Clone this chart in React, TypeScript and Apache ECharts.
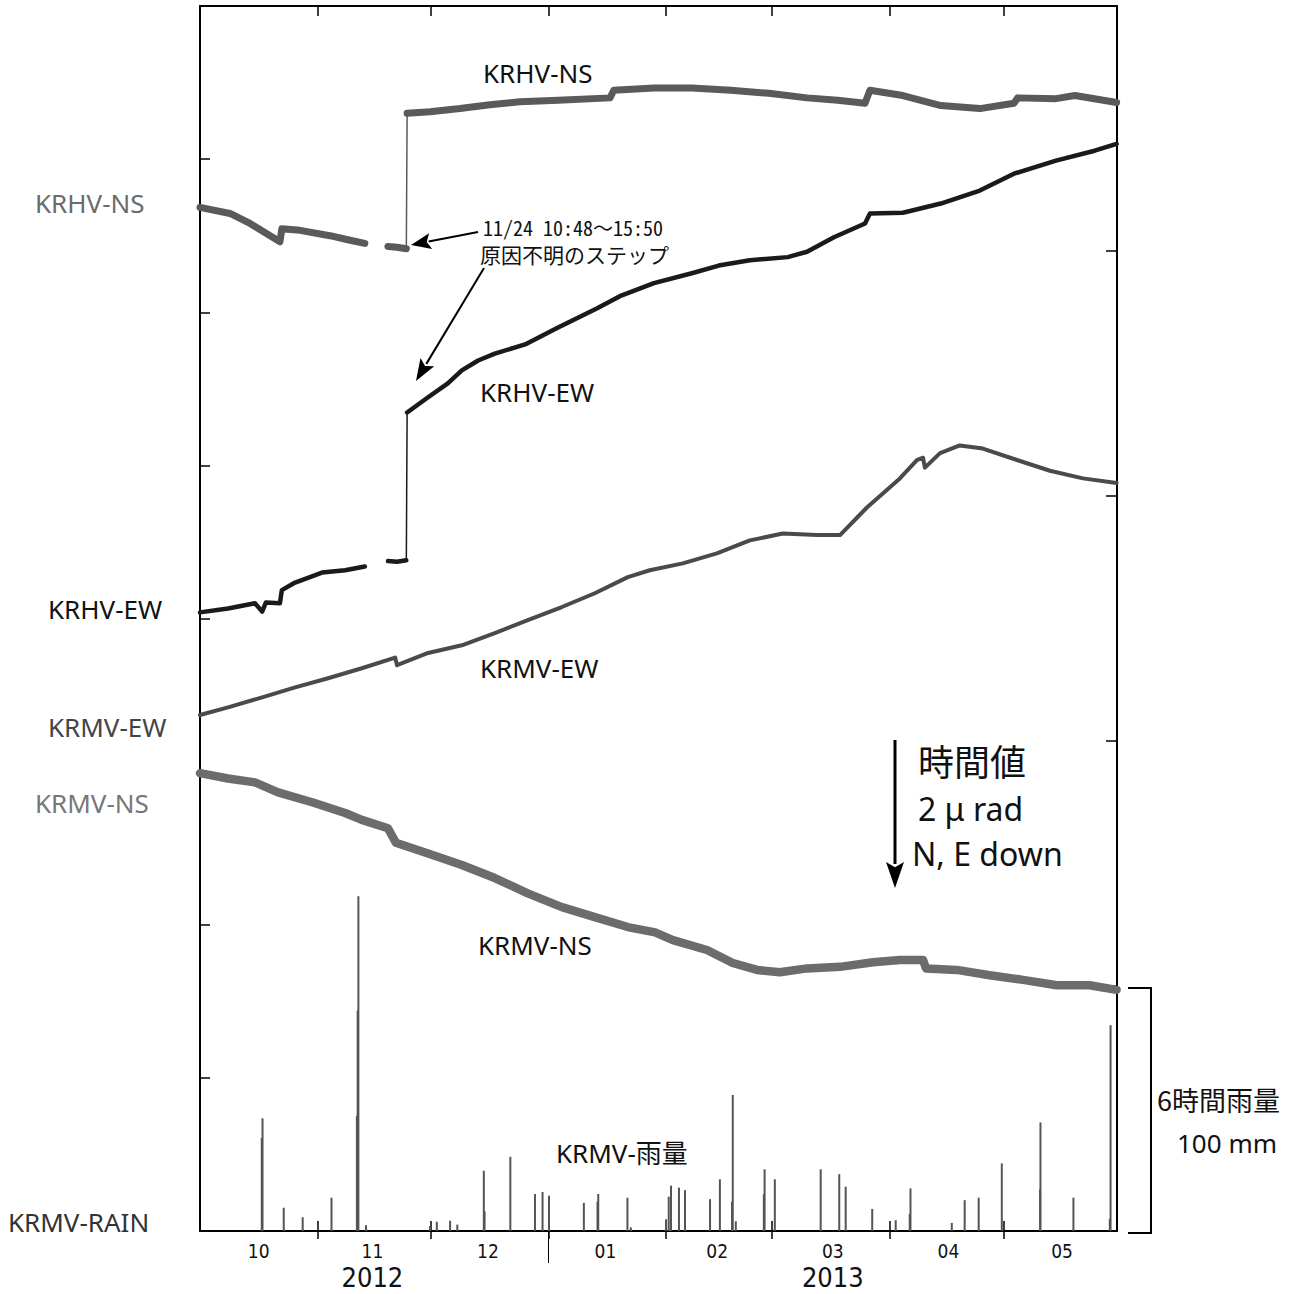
import React, { useEffect, useRef } from "react";
import * as echarts from "echarts";

// x: days since 2012-10-01 00:00 ; left y: tilt (µrad, arbitrary offset) ; right y: 6-hour rainfall (mm)
const MONTH_STARTS = [31, 61, 92, 123, 151, 182, 212];
const MONTH_LABEL_POS = [15.5, 45.5, 76, 107, 136.5, 167, 197.5, 227.5];
const MONTH_LABELS = ["10", "11", "12", "01", "02", "03", "04", "05"];
const YEAR_POS = [45.5, 167];
const YEAR_LABELS = ["2012", "2013"];
const YEAR_DIVIDER = [92];

// KRHV-NS
const krhvNsA = [[0, 13.37], [7.9, 13.29], [13.2, 13.16], [18.5, 13.0], [21.1, 12.92], [21.6, 13.09], [26.4, 13.07], [34.3, 13.0], [39.6, 12.94], [43.5, 12.9]];
const krhvNsB = [[49.6, 12.86], [52, 12.85], [54.45, 12.83]];
const krhvNsStep = [[54.45, 12.83], [54.66, 14.6]];
const krhvNsC = [[54.66, 14.6], [60.7, 14.62], [68.6, 14.66], [76.5, 14.71], [84.4, 14.75], [94.5, 14.77], [108.2, 14.8], [109.2, 14.9], [119.8, 14.93], [129.8, 14.93], [140.1, 14.9], [150.1, 14.86], [160.2, 14.8], [168.3, 14.77], [175.5, 14.73], [176.8, 14.9], [185.5, 14.83], [195.5, 14.7], [205.8, 14.66], [214.8, 14.73], [215.8, 14.8], [225.9, 14.79], [230.9, 14.83], [241.9, 14.74]];

// KRHV-EW
const krhvEwA = [[0, 8.08], [7.4, 8.13], [14.5, 8.2], [16.4, 8.09], [17.4, 8.21], [21.1, 8.2], [21.6, 8.37], [25.1, 8.47], [32.2, 8.6], [38.3, 8.63], [43.5, 8.68]];
const krhvEwB = [[49.6, 8.75], [52, 8.74], [54.45, 8.76]];
const krhvEwStep = [[54.45, 8.76], [54.66, 10.69]];
const krhvEwC = [[54.66, 10.69], [60.2, 10.89], [65.4, 11.07], [69.1, 11.24], [73.4, 11.37], [77.8, 11.46], [85.8, 11.58], [94.5, 11.8], [104.7, 12.05], [110.8, 12.21], [119.8, 12.38], [129.8, 12.51], [136.9, 12.61], [145.1, 12.68], [155.1, 12.72], [160.2, 12.79], [167.3, 12.98], [175.5, 13.16], [176.8, 13.29], [185.5, 13.3], [195.5, 13.42], [205.8, 13.59], [214.8, 13.81], [225.9, 13.98], [236.1, 14.11], [241.9, 14.2]];

// KRMV-EW
const krmvEw = [[0, 6.74], [7.4, 6.84], [16.4, 6.97], [25.1, 7.1], [33.8, 7.22], [42.7, 7.35], [51.5, 7.49], [52.0, 7.39], [60.2, 7.55], [69.1, 7.65], [77.8, 7.81], [86.5, 7.98], [95.5, 8.15], [104.2, 8.33], [112.9, 8.54], [118.7, 8.63], [127.4, 8.72], [136.4, 8.85], [145.1, 9.02], [153.8, 9.11], [162.8, 9.09], [168.9, 9.09], [176.0, 9.45], [184.7, 9.83], [189.2, 10.07], [190.8, 10.1], [191.3, 9.97], [195.3, 10.16], [200.5, 10.26], [206.6, 10.22], [215.6, 10.07], [224.3, 9.93], [233.0, 9.83], [241.9, 9.77]];

// KRMV-NS
const krmvNs = [[0, 5.98], [7.4, 5.91], [14.5, 5.86], [20.6, 5.73], [29.6, 5.6], [38.3, 5.46], [42.7, 5.37], [49.6, 5.26], [51.7, 5.07], [60.2, 4.93], [69.1, 4.78], [77.8, 4.61], [86.5, 4.41], [95.5, 4.23], [104.2, 4.1], [112.9, 3.97], [120.1, 3.9], [124.8, 3.8], [133.8, 3.67], [140.6, 3.5], [147.0, 3.41], [153.0, 3.38], [160.2, 3.43], [168.9, 3.45], [177.6, 3.51], [184.7, 3.54], [190.8, 3.54], [191.6, 3.43], [199.7, 3.41], [208.4, 3.34], [217.2, 3.28], [226.1, 3.21], [234.8, 3.21], [241.9, 3.15]];

// KRMV rain (6-hour totals, mm)
const krmvRain = [[16.3, 38], [16.5, 46], [22.1, 9.5], [27.1, 5.6], [34.7, 13.6], [41.4, 47], [41.6, 90], [41.8, 136.6], [43.8, 2.4], [60.7, 2], [62.5, 3.8], [66.0, 4.2], [67.9, 2.6], [74.9, 24.6], [75.1, 8], [81.9, 30.3], [88.4, 15.1], [90.4, 15.9], [92.1, 14.4], [101.3, 11.5], [104.9, 12], [105.1, 15.1], [112.8, 13.6], [113.7, 1.5], [123.0, 4.8], [123.7, 14], [124.3, 18.5], [126.4, 17.7], [128.0, 16.7], [134.6, 13.0], [137.2, 21.1], [140.4, 12], [140.6, 55.5], [141.4, 4], [148.8, 15], [149.0, 25.2], [151.7, 21.1], [163.8, 25.2], [168.7, 23.2], [170.4, 18.1], [177.4, 9.0], [183.6, 4.4], [187.3, 7], [187.5, 17.4], [198.4, 3.3], [201.8, 12.6], [205.5, 13.6], [211.6, 27.6], [221.7, 17], [221.8, 44.3], [230.5, 13.6], [240.1, 5], [240.3, 84]];

const SANS = '"Noto Sans", "Noto Sans CJK JP", sans-serif';
const CJK = '"Noto Sans CJK JP", "Noto Sans", sans-serif';
const MONO_CJK = '"Noto Sans Mono CJK JP", "Noto Sans CJK JP", monospace';
const NARROW = '"Liberation Sans Narrow", "DejaVu Sans Condensed", "Arial Narrow", sans-serif';

function nearestLabel(v: number, pos: number[], labels: string[]) {
  let best = 0;
  for (let i = 1; i < pos.length; i++) if (Math.abs(pos[i] - v) < Math.abs(pos[best] - v)) best = i;
  return labels[best];
}

function txt(text: string, x: number, y: number, size: number, color: string, family = SANS, align = "left") {
  return {
    type: "text", x, y, silent: true, z: 100,
    style: { text, font: `${size}px ${family}`, fill: color, textAlign: align, textVerticalAlign: "middle" },
  };
}

function arrow(x1: number, y1: number, x2: number, y2: number, headLen: number, headHalf: number, lw: number, color = "#000") {
  const dx = x2 - x1, dy = y2 - y1;
  const L = Math.hypot(dx, dy);
  const ux = dx / L, uy = dy / L;
  const bx = x2 - ux * headLen, by = y2 - uy * headLen;
  const px = -uy, py = ux;
  return [
    { type: "line", silent: true, z: 100, shape: { x1, y1, x2: bx + ux * 2, y2: by + uy * 2 }, style: { stroke: color, lineWidth: lw } },
    {
      type: "polygon", silent: true, z: 100,
      shape: { points: [[x2, y2], [bx + px * headHalf, by + py * headHalf], [bx + ux * headLen * 0.2, by + uy * headLen * 0.2], [bx - px * headHalf, by - py * headHalf]] },
      style: { fill: color },
    },
  ];
}

function lineSeries(data: number[][], color: string, width: number, z = 2) {
  return {
    type: "line", xAxisIndex: 0, yAxisIndex: 0, data, symbol: "none", showSymbol: false, silent: true, z,
    lineStyle: { color, width, join: "round", cap: "round" },
  };
}

const C_HVNS = "#5a5a5a";
const C_HVEW = "#1a1a1a";
const C_MVEW = "#4a4a4a";
const C_MVNS = "#6c6c6c";

export default function App() {
  const ref = useRef<HTMLDivElement>(null);
  useEffect(() => {
    if (!ref.current) return;
    const chart = echarts.init(ref.current, undefined, { renderer: "svg" });
    const baseX = { type: "value", min: 0, max: 242, splitLine: { show: false } };
    const option = {
      animation: false,
      backgroundColor: "#ffffff",
      grid: { left: 200, right: 190, top: 6, bottom: 63, containLabel: false },
      xAxis: [
        {
          ...baseX, position: "bottom",
          axisLine: { show: true, onZero: false, lineStyle: { color: "#000", width: 2 } },
          axisTick: { show: true, inside: true, length: 10, customValues: MONTH_STARTS, lineStyle: { color: "#000", width: 1.5 } },
          axisLabel: {
            show: true, customValues: MONTH_LABEL_POS, margin: 10, fontSize: 19, lineHeight: 19, fontFamily: NARROW, color: "#111",
            formatter: (v: number) => nearestLabel(v, MONTH_LABEL_POS, MONTH_LABELS),
          },
        },
        {
          ...baseX, position: "bottom",
          axisLine: { show: false, onZero: false },
          axisTick: { show: true, inside: false, length: 8, customValues: MONTH_STARTS, lineStyle: { color: "#000", width: 1.5 } },
          axisLabel: {
            show: true, customValues: YEAR_POS, margin: 33, fontSize: 27, lineHeight: 27, fontFamily: NARROW, color: "#111",
            formatter: (v: number) => nearestLabel(v, YEAR_POS, YEAR_LABELS),
          },
        },
        {
          ...baseX, position: "bottom",
          axisLine: { show: false, onZero: false },
          axisTick: { show: true, inside: false, length: 32, customValues: YEAR_DIVIDER, lineStyle: { color: "#000", width: 1 } },
          axisLabel: { show: false },
        },
        {
          ...baseX, position: "top",
          axisLine: { show: true, onZero: false, lineStyle: { color: "#000", width: 2 } },
          axisTick: { show: true, inside: true, length: 10, customValues: MONTH_STARTS, lineStyle: { color: "#000", width: 1.5 } },
          axisLabel: { show: false },
        },
      ],
      yAxis: [
        {
          type: "value", min: 0, max: 16, interval: 2, position: "left",
          axisLine: { show: true, onZero: false, lineStyle: { color: "#000", width: 2 } },
          axisTick: { show: true, inside: true, length: 10, lineStyle: { color: "#000", width: 1.5 } },
          axisLabel: { show: false }, splitLine: { show: false },
        },
        {
          type: "value", min: 0, max: 500, interval: 100, position: "right",
          axisLine: { show: true, onZero: false, lineStyle: { color: "#000", width: 2 } },
          axisTick: { show: true, inside: true, length: 11, lineStyle: { color: "#000", width: 1.5 } },
          axisLabel: { show: false }, splitLine: { show: false },
        },
      ],
      series: [
        { type: "bar", xAxisIndex: 0, yAxisIndex: 1, data: krmvRain, barWidth: 2, silent: true, itemStyle: { color: "#555" }, z: 1 },
        lineSeries(krmvNs, C_MVNS, 8.5),
        lineSeries(krmvEw, C_MVEW, 4),
        lineSeries(krhvNsA, C_HVNS, 7),
        lineSeries(krhvNsB, C_HVNS, 7),
        lineSeries(krhvNsStep, C_HVNS, 1.5),
        lineSeries(krhvNsC, C_HVNS, 7),
        lineSeries(krhvEwA, C_HVEW, 4.5, 3),
        lineSeries(krhvEwB, C_HVEW, 4.5, 3),
        lineSeries(krhvEwStep, C_HVEW, 1.5, 3),
        lineSeries(krhvEwC, C_HVEW, 4.5, 3),
      ],
      graphic: [
        txt("KRHV-NS", 35, 203, 26, "#6b6b6b"),
        txt("KRHV-EW", 48, 609, 26, "#111"),
        txt("KRMV-EW", 48, 727, 26, "#444"),
        txt("KRMV-NS", 35, 803, 26, "#777"),
        txt("KRMV-RAIN", 8, 1222, 26, "#333"),
        txt("KRHV-NS", 483, 73, 26, "#111"),
        txt("KRHV-EW", 480, 392, 26, "#111"),
        txt("KRMV-EW", 480, 668, 26, "#111"),
        txt("KRMV-NS", 478, 945, 26, "#111"),
        txt("KRMV-雨量", 556, 1153, 26, "#111"),
        txt("11/24 10:48〜15:50", 483, 227, 20, "#111", MONO_CJK),
        txt("原因不明のステップ", 480, 254, 21, "#111", CJK),
        ...arrow(478, 232, 411, 245, 20, 8, 2),
        ...arrow(484, 268, 416, 381, 22, 8, 2),
        ...arrow(895, 740, 895, 888, 26, 9, 3),
        txt("時間値", 918, 760, 36, "#111", CJK),
        txt("2 μ rad", 918, 808, 32, "#111"),
        txt("N, E down", 912, 853, 32, "#111"),
        {
          type: "polyline", silent: true, z: 100,
          shape: { points: [[1128, 988], [1151, 988], [1151, 1233], [1128, 1233]] },
          style: { stroke: "#000", lineWidth: 2, fill: "none" },
        },
        txt("6時間雨量", 1157, 1099, 27, "#111", CJK),
        txt("100 mm", 1177, 1143, 26, "#111"),
      ],
    };
    chart.setOption(option as any);
    return () => chart.dispose();
  }, []);
  return (
    <div
      ref={ref}
      style={{ position: "absolute", left: 0, top: 0, width: 1307, height: 1294, background: "#fff" }}
    />
  );
}
